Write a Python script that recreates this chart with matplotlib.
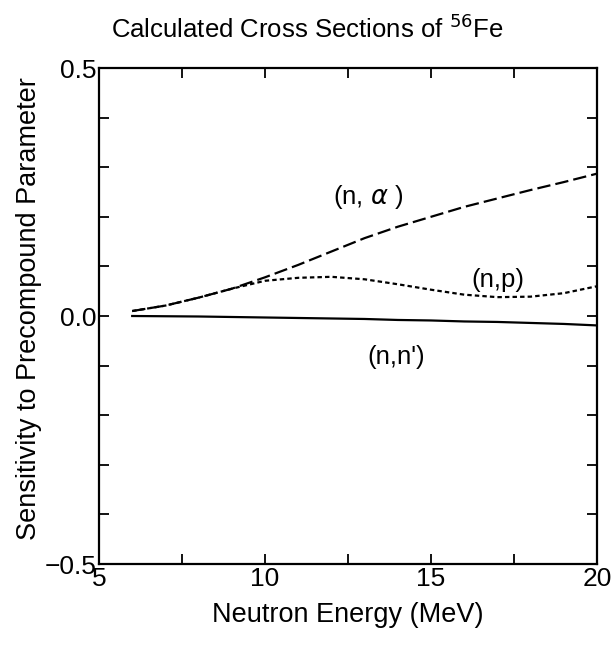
import matplotlib
matplotlib.use("Agg")
import matplotlib.pyplot as plt
from matplotlib.ticker import MultipleLocator, FixedLocator

plt.rcParams["font.family"] = ["Liberation Sans", "DejaVu Sans"]
plt.rcParams["mathtext.fontset"] = "dejavusans"

# Neutron energy grid (MeV)
energy = [6, 7, 8, 9, 10, 11, 12, 13, 14, 15, 16, 17, 18, 19, 20]

# Sensitivity of each reaction cross section to the precompound parameter
n_alpha = [0.010, 0.021, 0.037, 0.055, 0.078, 0.103, 0.130, 0.157, 0.180,
           0.200, 0.220, 0.237, 0.254, 0.270, 0.287]
n_p = [0.010, 0.021, 0.037, 0.055, 0.071, 0.077, 0.079, 0.074, 0.064,
       0.053, 0.043, 0.038, 0.039, 0.046, 0.060]
n_nprime = [0.000, -0.0005, -0.001, -0.002, -0.003, -0.004, -0.005, -0.006,
            -0.008, -0.009, -0.011, -0.012, -0.014, -0.016, -0.019]

x_ticks = [5, 10, 15, 20]
y_ticks = [-0.5, 0.0, 0.5]
y_tick_labels = ["\u22120.5", "0.0", "0.5"]

fig = plt.figure(figsize=(6.15, 6.45), dpi=100)
ax = fig.add_axes([99 / 615, (645 - 564) / 645, 498 / 615, 496 / 645])

lw = 1.6
ax.plot(energy, n_alpha, color="black", lw=lw, dashes=(6.0, 2.3))
ax.plot(energy, n_p, color="black", lw=lw, dashes=(2.0, 1.4))
ax.plot(energy, n_nprime, color="black", lw=lw)

ax.text(13.1, 0.24, "(n, $\\alpha$ )", fontsize=18.5, ha="center", va="center")
ax.text(17.0, 0.073, "(n,p)", fontsize=18.5, ha="center", va="center")
ax.text(13.95, -0.082, "(n,n')", fontsize=18.5, ha="center", va="center")

ax.set_xlim(5, 20)
ax.set_ylim(-0.5, 0.5)
ax.xaxis.set_major_locator(FixedLocator(x_ticks))
ax.xaxis.set_minor_locator(MultipleLocator(2.5))
ax.yaxis.set_major_locator(FixedLocator(y_ticks))
ax.set_yticklabels(y_tick_labels)
ax.yaxis.set_minor_locator(MultipleLocator(0.1))

ax.tick_params(which="both", direction="in", top=True, right=True,
               width=1.3, labelsize=19)
ax.tick_params(which="major", length=7, pad=2)
ax.tick_params(which="minor", length=7)
for sp in ax.spines.values():
    sp.set_linewidth(1.6)

ax.set_xlabel("Neutron Energy (MeV)", fontsize=19.5, labelpad=8)
ax.set_ylabel("Sensitivity to Precompound Parameter", fontsize=19.5)
ax.yaxis.set_label_coords(-0.115, 0.515)

fig.text(0.5, 1 - 38 / 645, "Calculated Cross Sections of $^{56}$Fe",
         fontsize=18.5, ha="center", va="baseline")

fig.savefig("out.png", dpi=100, facecolor="white")
